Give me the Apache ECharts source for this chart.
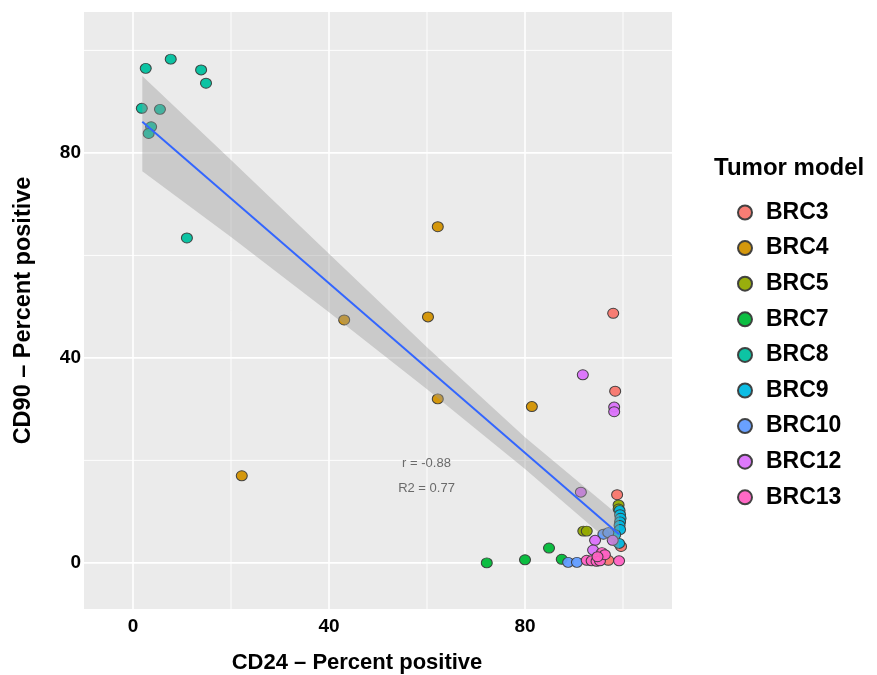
<!DOCTYPE html>
<html>
<head>
<meta charset="utf-8">
<script src="https://cdn.jsdelivr.net/npm/echarts@6/dist/echarts.min.js"></script>
<style>
  html, body { margin: 0; padding: 0; background: #fff; }
  #chart { width: 877px; height: 675px; }
</style>
</head>
<body>
<div id="chart"></div>
<script>
// tumor models and their colours (ggplot hue palette)
var models = ['BRC3', 'BRC4', 'BRC5', 'BRC7', 'BRC8', 'BRC9', 'BRC10', 'BRC12', 'BRC13'];
var colors = ['#F8766D', '#D39200', '#93AA00', '#00BA38', '#00C19F', '#00B9E3', '#619CFF', '#DB72FB', '#FF61C3'];

// [CD24 %, CD90 %] per sample
var brc3 = [[98.0, 48.7], [98.4, 33.5], [98.8, 13.3], [99.6, 3.2], [97.0, 0.5]];
var brc4 = [[62.2, 65.6], [43.1, 47.4], [60.2, 48.0], [62.2, 32.0], [81.4, 30.5], [22.2, 17.0]];
var brc5 = [[91.9, 6.2], [92.6, 6.2], [99.1, 11.3], [99.1, 10.5]];
var brc7 = [[72.2, 0.0], [80.0, 0.6], [84.9, 2.9], [87.5, 0.7]];
var brc8 = [[2.6, 96.5], [7.7, 98.3], [13.9, 96.2], [14.9, 93.6], [1.8, 88.7], [5.5, 88.5], [3.7, 85.1], [3.2, 83.8], [11.0, 63.4]];
var brc9 = [[99.3, 10.2], [99.4, 9.4], [99.5, 8.7], [99.4, 8.0], [99.3, 7.3], [99.4, 6.5], [99.2, 3.8], [98.4, 5.5]];
var brc10 = [[96.0, 5.6], [97.0, 5.9], [88.8, 0.1], [90.6, 0.1]];
var brc12 = [[91.8, 36.7], [98.2, 30.4], [98.2, 29.5], [91.4, 13.8], [94.3, 4.4], [97.9, 4.4], [93.9, 2.5]];
var brc13 = [[92.6, 0.5], [93.6, 0.4], [94.6, 0.3], [95.3, 0.4], [95.7, 2.0], [96.3, 1.6], [99.2, 0.4], [94.8, 1.2]];
var groups = [brc3, brc4, brc5, brc7, brc8, brc9, brc10, brc12, brc13];

// fitted line and its confidence band
var lineX = [1.9, 99.2];
var lineY = [86.1, 5.6];
var bandX = [1.9, 20, 40, 60, 80, 99.2];
var bandLow = [76.4, 63.6, 48.9, 33.9, 18.3, 2.5];
var bandHigh = [95.0, 78.6, 60.3, 42.1, 24.5, 9.2];

// grid lines and tick labels
var gridX = [0, 20, 40, 60, 80, 100];
var gridY = [0, 20, 40, 60, 80, 100];
var tickLabels = [0, 40, 80];

var stats = [[59.9, 19.5, 'r = -0.88'], [59.9, 14.6, 'R2 = 0.77']];

var font = 'Liberation Sans, Arial, Helvetica, sans-serif';

var chart = echarts.init(document.getElementById('chart'));

function isLabel(v) {
    for (var i = 0; i < tickLabels.length; i++) {
        if (Math.abs(v - tickLabels[i]) < 1e-6) return true;
    }
    return false;
}

var gridData = [];
gridX.forEach(function (v) { gridData.push([v, 0]); });
gridY.forEach(function (v) { gridData.push([v, 1]); });

var series = [];

// background grid lines
series.push({
    type: 'custom',
    silent: true,
    z: 1,
    data: gridData,
    renderItem: function (params, api) {
        var cs = params.coordSys;
        var v = api.value(0);
        var horiz = api.value(1) === 1;
        var w = isLabel(v) ? 1.6 : 0.9;
        var shape;
        if (horiz) {
            var py = api.coord([0, v])[1];
            shape = { x1: cs.x, y1: py, x2: cs.x + cs.width, y2: py };
        } else {
            var px = api.coord([v, 0])[0];
            shape = { x1: px, y1: cs.y, x2: px, y2: cs.y + cs.height };
        }
        return { type: 'line', shape: shape, style: { stroke: '#ffffff', lineWidth: w } };
    }
});

models.forEach(function (m, i) {
    series.push({
        name: m,
        type: 'scatter',
        z: 2,
        data: groups[i],
        symbol: 'circle',
        symbolSize: [11, 10],
        itemStyle: { color: colors[i], borderColor: '#3a3a3a', borderWidth: 1, opacity: 0.95 }
    });
});

// confidence band drawn over the points
series.push({
    type: 'custom',
    silent: true,
    z: 3,
    data: [0],
    renderItem: function (params, api) {
        var pts = [];
        for (var i = 0; i < bandX.length; i++) pts.push(api.coord([bandX[i], bandHigh[i]]));
        for (var j = bandX.length - 1; j >= 0; j--) pts.push(api.coord([bandX[j], bandLow[j]]));
        return { type: 'polygon', shape: { points: pts }, style: { fill: 'rgba(153,153,153,0.4)' } };
    }
});

series.push({
    type: 'line',
    z: 4,
    silent: true,
    data: lineX.map(function (x, i) { return [x, lineY[i]]; }),
    showSymbol: false,
    lineStyle: { color: '#3366FF', width: 2 }
});

series.push({
    type: 'scatter',
    z: 5,
    silent: true,
    symbolSize: 0,
    data: stats,
    label: {
        show: true,
        position: 'inside',
        formatter: function (p) { return p.value[2]; },
        fontFamily: font,
        fontSize: 13,
        color: '#4a4a4a'
    }
});

var option = {
    animation: false,
    backgroundColor: '#ffffff',
    title: {
        text: 'Tumor model',
        left: 714,
        top: 156,
        padding: 0,
        textStyle: { fontFamily: font, fontSize: 24, fontWeight: 'bold', color: '#000' }
    },
    legend: {
        data: models,
        orient: 'vertical',
        left: 732,
        top: 196,
        icon: 'circle',
        itemWidth: 26,
        itemHeight: 14,
        itemGap: 12.6,
        textStyle: { fontFamily: font, fontSize: 23, fontWeight: 'bold', color: '#000', lineHeight: 23, padding: [0, 0, 0, 3] }
    },
    grid: {
        left: 84,
        top: 12,
        width: 588,
        height: 597,
        show: true,
        backgroundColor: '#EBEBEB',
        borderWidth: 0,
        containLabel: false,
        outerBoundsMode: 'none'
    },
    xAxis: {
        type: 'value',
        min: -10,
        max: 110,
        interval: 10,
        name: 'CD24 – Percent positive',
        nameLocation: 'middle',
        nameGap: 43,
        nameTextStyle: { fontFamily: font, fontSize: 22, fontWeight: 'bold', color: '#000', padding: [0, 42, 0, 0] },
        axisLine: { show: false },
        axisTick: { show: false },
        splitLine: { show: false },
        axisLabel: {
            margin: 8,
            fontFamily: font,
            fontSize: 19,
            fontWeight: 'bold',
            color: '#000',
            formatter: function (v) { return isLabel(v) ? String(Math.round(v)) : ''; }
        }
    },
    yAxis: {
        type: 'value',
        min: -9,
        max: 107.5,
        interval: 1,
        name: 'CD90 – Percent positive',
        nameLocation: 'middle',
        nameGap: 48,
        nameTextStyle: { fontFamily: font, fontSize: 23.5, fontWeight: 'bold', color: '#000' },
        axisLine: { show: false },
        axisTick: { show: false },
        splitLine: { show: false },
        axisLabel: {
            margin: 3,
            fontFamily: font,
            fontSize: 19,
            fontWeight: 'bold',
            color: '#000',
            formatter: function (v) { return isLabel(v) ? String(Math.round(v)) : ''; }
        }
    },
    series: series
};

chart.setOption(option);
</script>
</body>
</html>
